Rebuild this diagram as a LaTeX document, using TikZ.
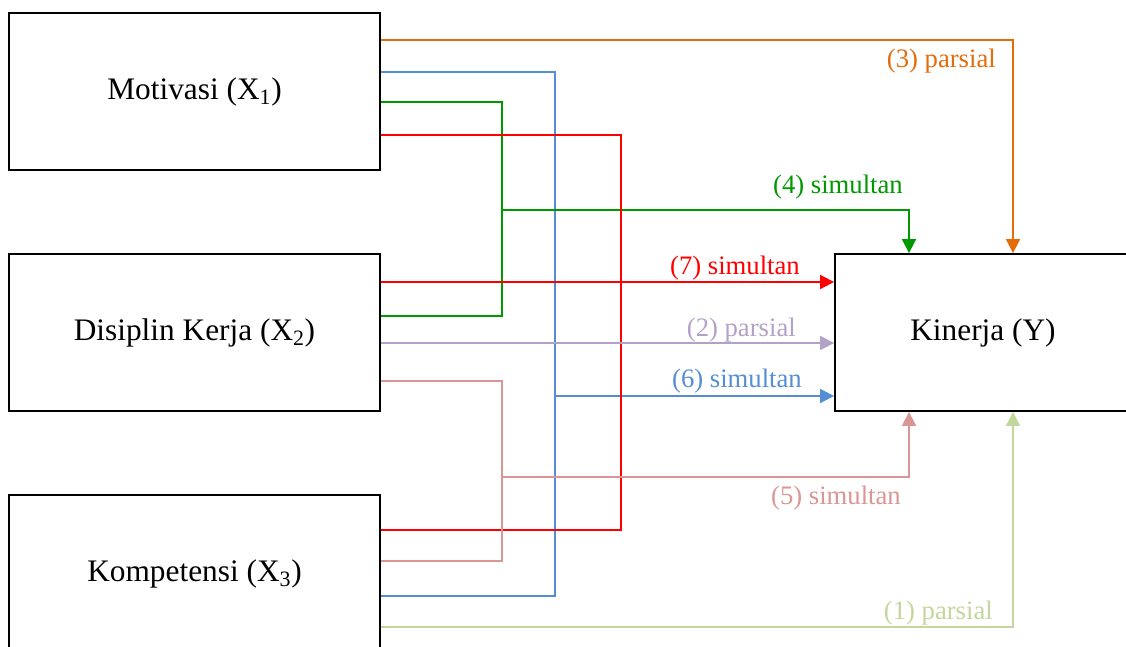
\documentclass[tikz,border=0pt]{standalone}
\usepackage{fontspec}
\setmainfont{Liberation Serif}
\usetikzlibrary{arrows.meta}
\definecolor{cOr}{HTML}{E46C0A}
\definecolor{cBl}{HTML}{558ED5}
\definecolor{cGr}{HTML}{009900}
\definecolor{cRd}{HTML}{FF0000}
\definecolor{cLv}{HTML}{B3A2C7}
\definecolor{cPk}{HTML}{D99694}
\definecolor{cLg}{HTML}{C3D69B}
\tikzset{
  box/.style={draw=black, line width=1.4pt, fill=white, minimum width=278.25pt, minimum height=117.75pt, inner sep=0pt, font=\fontsize{23.5}{28}\selectfont},
  conn/.style={line width=1.4pt},
  tri/.style={-{Triangle[length=10.5pt,width=10.5pt]}},
  lbl/.style={anchor=base east, inner sep=0pt, font=\fontsize{20}{24}\selectfont}
}
\begin{document}
\begin{tikzpicture}[x=0.75pt,y=-0.75pt]
\useasboundingbox (0,0) rectangle (1126,646);
\clip (0,0) rectangle (1126,646);
% boxes
\node[box] (m) at (194.5,91.5) {Motivasi (X\textsubscript{1})};
\node[box] (d) at (194.5,332.5) {Disiplin Kerja (X\textsubscript{2})};
\node[box] (k) at (194.5,573.5) {Kompetensi (X\textsubscript{3})};
\node[box, minimum width=222pt] (y) at (983,332.5) {Kinerja (Y)};
% coordinates
\coordinate (o1) at (1013,40);
\coordinate (bv1) at (555,72);
\coordinate (bv2) at (555,596);
\coordinate (bj) at (555,396);
\coordinate (g1) at (502,102);
\coordinate (g2) at (502,316);
\coordinate (gj) at (502,210);
\coordinate (gt) at (909,210);
\coordinate (r1) at (621,135);
\coordinate (r2) at (621,530);
\coordinate (rj) at (380,282);
\coordinate (lv) at (380,343);
\coordinate (p1) at (502,381);
\coordinate (p2) at (502,561);
\coordinate (pj) at (502,477);
\coordinate (pt) at (909,477);
\coordinate (lg) at (1013,627);
% connectors
\draw[conn, cOr, tri] (m.east |- o1) -- (o1) -- (y.north -| o1);
\draw[conn, cBl] (m.east |- bv1) -- (bv1) -- (bv2) -- (k.east |- bv2);
\draw[conn, cBl, tri] (bj) -- (y.west |- bj);
\draw[conn, cGr] (m.east |- g1) -- (g1) -- (g2) -- (d.east |- g2);
\draw[conn, cGr, tri] (gj) -- (gt) -- (y.north -| gt);
\draw[conn, cRd] (m.east |- r1) -- (r1) -- (r2) -- (k.east |- r2);
\draw[conn, cRd, tri] (d.east |- rj) -- (y.west |- rj);
\draw[conn, cLv, tri] (d.east |- lv) -- (y.west |- lv);
\draw[conn, cPk] (d.east |- p1) -- (p1) -- (p2) -- (k.east |- p2);
\draw[conn, cPk, tri] (pj) -- (pt) -- (y.south -| pt);
\draw[conn, cLg, tri] (k.east |- lg) -- (lg) -- (y.south -| lg);
% labels
\node[lbl, text=cOr] (l3) at (996,67) {(3) parsial};
\node[lbl, text=cGr] (l4) at (903,193) {(4) simultan};
\node[lbl, text=cRd] (l7) at (800,274) {(7) simultan};
\node[lbl, text=cLv] (l2) at (796,336) {(2) parsial};
\node[lbl, text=cBl] (l6) at (802,387) {(6) simultan};
\node[lbl, text=cPk] (l5) at (901,504) {(5) simultan};
\node[lbl, text=cLg] (l1) at (993,619) {(1) parsial};
\end{tikzpicture}
\end{document}
